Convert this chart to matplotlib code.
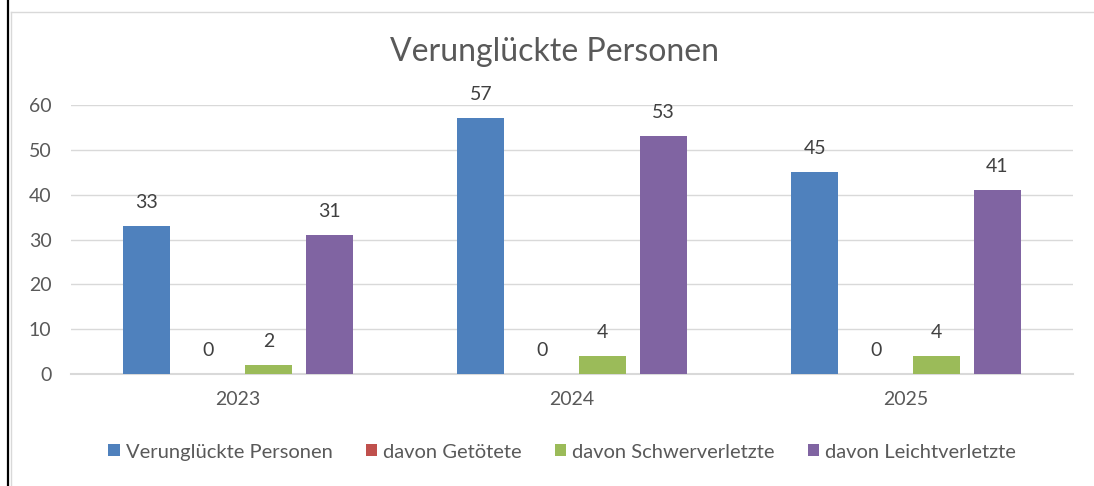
import numpy as np
import matplotlib
matplotlib.use("Agg")
import matplotlib.pyplot as plt
from matplotlib.lines import Line2D
from matplotlib.patches import Patch

plt.rcParams['font.family'] = ['Lato', 'DejaVu Sans']

years = ["2023", "2024", "2025"]
series_names = ["Verunglückte Personen", "davon Getötete",
                "davon Schwerverletzte", "davon Leichtverletzte"]
verunglueckte = [33, 57, 45]
getoetete = [0, 0, 0]
schwerverletzte = [2, 4, 4]
leichtverletzte = [31, 53, 41]
yticks = [0, 10, 20, 30, 40, 50, 60]

colors = ["#4F81BD", "#C0504D", "#9BBB59", "#8064A2"]
text_col = "#595959"
grid_col = "#D9D9D9"

fig = plt.figure(figsize=(10.94, 4.86), dpi=100)
ax = fig.add_axes([71 / 1094, 112 / 486, 1002 / 1094, 269 / 486])

x = np.arange(len(years))
slot = 0.1817
width = 0.1407
all_series = [verunglueckte, getoetete, schwerverletzte, leichtverletzte]
for i, (vals, col) in enumerate(zip(all_series, colors)):
    pos = x + (i - 1.5) * slot
    bars = ax.bar(pos, vals, width, color=col, zorder=3)
    for b, v in zip(bars, vals):
        ax.annotate(str(v), (b.get_x() + b.get_width() / 2, v),
                    xytext=(0, 11), textcoords="offset points",
                    ha="center", va="bottom", fontsize=14, color="#404040")

ax.set_xlim(-0.5, len(years) - 0.5)
ax.set_ylim(0, 60)
ax.set_yticks(yticks)
ax.set_xticks(x)
ax.set_xticklabels(years)
ax.tick_params(axis="both", length=0, labelsize=14, labelcolor=text_col)
ax.tick_params(axis="y", pad=14)
ax.tick_params(axis="x", pad=12)
ax.yaxis.grid(True, color=grid_col, linewidth=1.0, zorder=0)
for s in ["top", "right", "left"]:
    ax.spines[s].set_visible(False)
ax.spines["bottom"].set_color(grid_col)
ax.spines["bottom"].set_linewidth(1.5)

fig.text(555 / 1094, 1 - 52 / 486, "Verunglückte Personen", ha="center",
         va="center", fontsize=23, color=text_col)

handles = [Patch(facecolor=c, edgecolor="none") for c in colors]
fig.legend(handles, series_names, loc="center", bbox_to_anchor=(562 / 1094, 1 - 452 / 486),
           ncol=4, frameon=False, fontsize=14.5, labelcolor=text_col,
           handlelength=0.55, handleheight=0.55, handletextpad=0.3, columnspacing=1.65)

# page/cell borders around the chart
fig.add_artist(Line2D([8 / 1094, 8 / 1094], [0, 1], color="black", linewidth=1.6))
fig.add_artist(Line2D([11 / 1094, 11 / 1094], [0, 1 - 12 / 486], color=grid_col, linewidth=1.0))
fig.add_artist(Line2D([11 / 1094, 1], [1 - 12 / 486, 1 - 12 / 486], color=grid_col, linewidth=1.0))

fig.savefig("out.png", dpi=100)
